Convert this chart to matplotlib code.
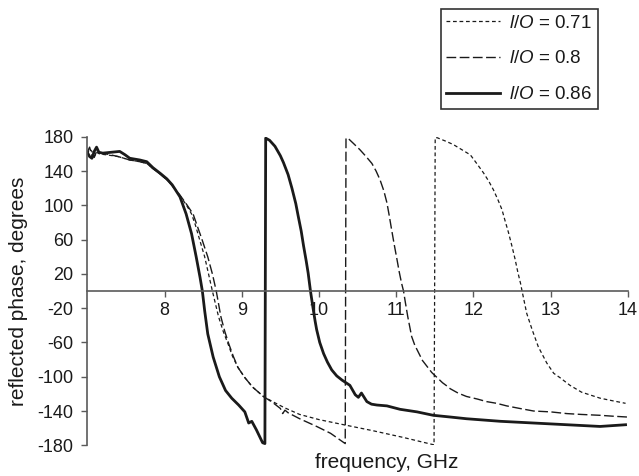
import matplotlib
matplotlib.use("Agg")
import matplotlib.pyplot as plt

plt.rcParams['font.family'] = ['Liberation Sans', 'DejaVu Sans']
plt.rcParams['axes.unicode_minus'] = False
plt.rcParams['mathtext.fontset'] = 'custom'
plt.rcParams['mathtext.it'] = 'Liberation Sans:italic'
plt.rcParams['mathtext.rm'] = 'Liberation Sans'

# ---- data (frequency GHz, reflected phase degrees) ----
f_071 = [7.00, 7.03, 7.06, 7.09, 7.12, 7.16, 7.25, 7.40, 7.55, 7.68, 7.77, 7.85, 7.95, 8.03,
         8.10, 8.20, 8.28, 8.35, 8.40, 8.445, 8.52, 8.57, 8.62, 8.70, 8.76, 8.82, 8.88, 8.95,
         9.04, 9.14, 9.28, 9.40, 9.55, 9.75, 10.00, 10.32, 10.70, 11.10, 11.49,
         11.505, 11.53, 11.64, 11.74, 11.85, 11.96, 12.05, 12.13, 12.20, 12.26, 12.32, 12.37,
         12.41, 12.455, 12.50, 12.54, 12.575, 12.61, 12.63, 12.66, 12.69, 12.76, 12.84, 12.95,
         13.04, 13.12, 13.25, 13.40, 13.64, 13.80, 13.97]
p_071 = [160, 166, 163, 157, 162, 160, 159, 157, 153, 151, 149, 143, 136, 130,
         123, 111, 101, 90, 77, 63, 40, 20, 0, -30, -47, -61, -76, -89,
         -101, -112, -123, -129, -136, -144, -150, -156, -163, -171, -179.5,
         179, 179, 175, 171, 165, 159, 148, 138, 128, 118, 106, 95,
         82, 68, 52, 37, 22, 9, 0, -13, -26, -45, -65, -84,
         -96, -101, -110, -118, -125, -128, -131]

f_080 = [7.00, 7.03, 7.06, 7.09, 7.12, 7.16, 7.25, 7.40, 7.55, 7.68, 7.77, 7.85, 7.95, 8.03,
         8.10, 8.20, 8.28, 8.37, 8.42, 8.475, 8.56, 8.62, 8.67, 8.73, 8.78, 8.83, 8.89, 8.95,
         9.04, 9.14, 9.28, 9.40, 9.50, 9.53, 9.56, 9.60, 9.75, 9.97, 10.15, 10.34,
         10.35, 10.38, 10.45, 10.53, 10.61, 10.685, 10.74, 10.79, 10.84, 10.88, 10.91, 10.94,
         10.975, 11.01, 11.04, 11.07, 11.095, 11.12, 11.15, 11.20, 11.24, 11.29, 11.34, 11.40,
         11.46, 11.53, 11.60, 11.66, 11.70, 11.80, 11.91, 12.05, 12.17, 12.30, 12.43, 12.60,
         12.78, 13.00, 13.21, 13.40, 13.64, 13.80, 13.99]
p_080 = [162, 168, 158, 156, 163, 161, 160, 157, 153, 151, 149, 143, 136, 130,
         123, 112, 102, 90, 77, 63, 40, 20, 0, -30, -47, -61, -76, -89,
         -101, -112, -123, -130, -137, -143, -139, -142, -149, -158, -166, -178,
         178.5, 178, 172, 165, 157, 149, 140, 130, 117, 103, 88, 72,
         54, 37, 22, 9, 0, -14, -30, -53, -63, -72, -81, -88,
         -95, -101, -107, -111, -114, -119, -123, -126, -129, -131, -134, -137,
         -140, -141, -143, -144, -145, -146, -147]

f_086 = [7.00, 7.03, 7.06, 7.09, 7.12, 7.15, 7.20, 7.42, 7.49, 7.55, 7.68, 7.77, 7.85, 7.95,
         8.03, 8.10, 8.20, 8.28, 8.35, 8.41, 8.46, 8.49, 8.52, 8.56, 8.63, 8.71, 8.79, 8.87,
         8.96, 9.04, 9.09, 9.13, 9.19, 9.27, 9.30,
         9.31, 9.36, 9.43, 9.50, 9.54, 9.60, 9.65, 9.70, 9.73, 9.77, 9.80, 9.835, 9.86, 9.89,
         9.92, 9.95, 9.97, 10.01, 10.06, 10.11, 10.165, 10.23, 10.30, 10.40, 10.47, 10.51,
         10.55, 10.62, 10.68, 10.75, 10.88, 11.05, 11.27, 11.48, 11.70, 11.91, 12.35, 12.78,
         13.21, 13.64, 13.97]
p_086 = [162, 157, 155, 163, 168, 162, 161, 163, 159, 155, 153, 151, 144, 137,
         131, 124, 110, 90, 67, 40, 16, 0, -23, -50, -77, -100, -116, -125,
         -133, -141, -154, -152, -162, -177, -178,
         178.5, 176, 169, 158, 150, 136, 120, 102, 88, 70, 53, 35, 21, 0,
         -18, -35, -45, -60, -73, -83, -92, -99, -104, -110, -121, -124,
         -119, -129, -132, -133, -134, -138, -141, -145, -147, -149, -152, -154,
         -156, -158, -156]

labels = [r'$\mathit{l/O}$ = 0.71', r'$\mathit{l/O}$ = 0.8', r'$\mathit{l/O}$ = 0.86']
x_ticks = [8, 9, 10, 11, 12, 13, 14]
y_ticks = [-180, -140, -100, -60, -20, 20, 60, 100, 140, 180]

# ---- figure ----
fig = plt.figure(figsize=(6.39, 4.76), dpi=100)
ax = fig.add_axes([0.1366, 0.0645, 0.846, 0.648])

ink = '#1a1a1a'
l1, = ax.plot(f_071, p_071, color=ink, lw=0.9, dashes=(3.0, 2.2))
l2, = ax.plot(f_080, p_080, color=ink, lw=1.0, dashes=(7.0, 2.5))
l3, = ax.plot(f_086, p_086, color=ink, lw=2.0, solid_joinstyle='round')

ax.set_xlim(7, 14)
ax.set_ylim(-180, 180)
ax.set_xticks(x_ticks)
ax.set_yticks(y_ticks)
ax.set_yticklabels([str(v) for v in y_ticks])

spine_c = '#5a5a5a'
for s in ['top', 'right']:
    ax.spines[s].set_visible(False)
ax.spines['bottom'].set_position(('data', 0))
ax.spines['bottom'].set_color(spine_c)
ax.spines['left'].set_color(spine_c)
ax.spines['bottom'].set_linewidth(1.2)
ax.spines['left'].set_linewidth(1.2)

ax.tick_params(axis='both', direction='out', length=4, width=1.0, color=spine_c,
               labelsize=13, labelcolor=ink)
ax.tick_params(axis='y', pad=6)
ax.tick_params(axis='x', pad=4)

ax.set_xlabel('frequency, GHz', fontsize=15, color=ink)
ax.xaxis.set_label_coords(0.554, -0.057)
ax.xaxis.label.set_va('center')
ax.set_ylabel('reflected phase, degrees', fontsize=15, color=ink)
ax.yaxis.set_label_coords(-0.128, 0.5)
ax.yaxis.label.set_va('center')

leg = fig.legend([l1, l2, l3], labels, loc='upper right',
                 bbox_to_anchor=(0.936, 0.981), bbox_transform=fig.transFigure,
                 fontsize=13.5, frameon=True, fancybox=False, framealpha=1,
                 handlelength=2.83, handletextpad=0.53, labelspacing=0.99,
                 borderpad=0.3, borderaxespad=0)
leg.get_frame().set_edgecolor('#333333')
leg.get_frame().set_linewidth(1.2)
for t in leg.get_texts():
    t.set_color(ink)

fig.savefig('out.png', dpi=100)
